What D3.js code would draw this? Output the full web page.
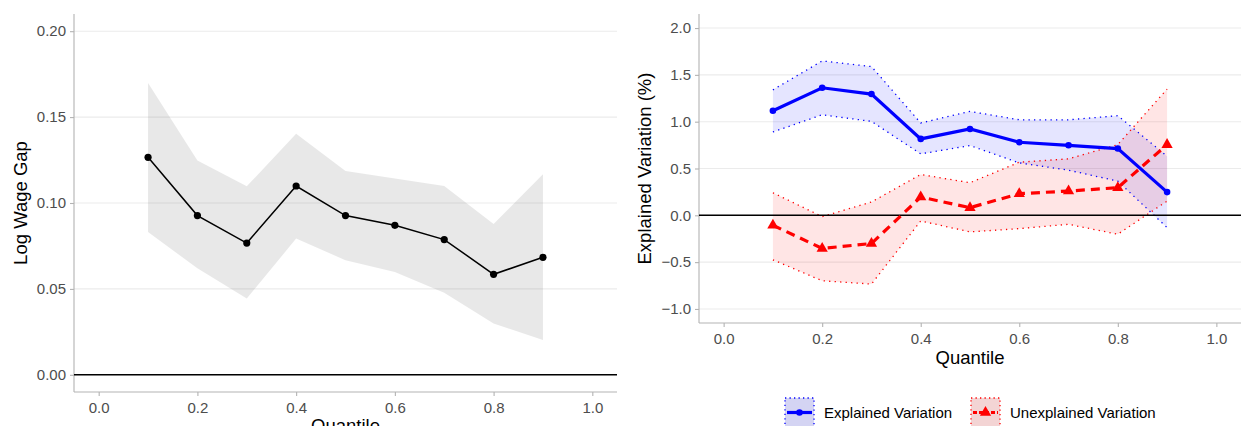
<!DOCTYPE html>
<html><head><meta charset="utf-8">
<script src="https://cdn.jsdelivr.net/npm/d3@7"></script>
<style>
body{margin:0;background:#fff;}
svg{display:block;font-family:"Liberation Sans",Arial,sans-serif;}
</style></head><body>
<svg id="c" width="1245" height="426"></svg>
<script>
// ---- data ----
const quantiles = [0.1,0.2,0.3,0.4,0.5,0.6,0.7,0.8,0.9];
const gap      = [0.1266,0.0927,0.0767,0.1099,0.0927,0.0870,0.0787,0.0585,0.0684];
const gapUpper = [0.1698,0.1248,0.1097,0.1403,0.1186,0.1142,0.1099,0.0878,0.1167];
const gapLower = [0.0831,0.0620,0.0444,0.0793,0.0667,0.0599,0.0477,0.0299,0.0202];

const explained      = [1.117,1.362,1.295,0.816,0.922,0.780,0.748,0.713,0.248];
const explainedUpper = [1.340,1.649,1.589,0.986,1.110,1.020,1.020,1.064,0.631];
const explainedLower = [0.890,1.074,1.003,0.656,0.745,0.560,0.482,0.365,-0.131];

const unexplained      = [-0.106,-0.354,-0.301,0.195,0.082,0.231,0.259,0.295,0.755];
const unexplainedUpper = [0.241,-0.014,0.142,0.436,0.348,0.567,0.603,0.755,1.348];
const unexplainedLower = [-0.475,-0.699,-0.734,-0.060,-0.177,-0.142,-0.096,-0.202,0.152];

const xTicks = [0,0.2,0.4,0.6,0.8,1.0];
const leftYTicks = [0,0.05,0.10,0.15,0.20];
const rightYTicks = [-1.0,-0.5,0,0.5,1.0,1.5,2.0];
const legendLabels = ["Explained Variation","Unexplained Variation"];

const svg = d3.select("#c");
const TICK_COL = "#4D4D4D", AXIS_COL = "#B3B3B3", GRID_COL = "#EBEBEB";

function panel(x0,x1,y0,y1,yDomain,yTicks,yFmt,yTitle,yTitleX,xTitleY){
  const x = d3.scaleLinear().domain([-0.05,1.05]).range([x0,x1]);
  const y = d3.scaleLinear().domain(yDomain).range([y1,y0]);
  const g = svg.append("g");
  // grid
  g.selectAll(".grid").data(yTicks).enter().append("line")
    .attr("x1",x0).attr("x2",x1).attr("y1",d=>y(d)).attr("y2",d=>y(d))
    .attr("stroke",GRID_COL).attr("stroke-width",1.1);
  // axes
  const ax = g.append("g").attr("transform",`translate(0,${y1})`)
    .call(d3.axisBottom(x).tickValues(xTicks).tickFormat(d3.format(".1f")).tickSize(4).tickPadding(6));
  const ay = g.append("g").attr("transform",`translate(${x0},0)`)
    .call(d3.axisLeft(y).tickValues(yTicks).tickFormat(yFmt).tickSize(4).tickPadding(4));
  [ax,ay].forEach(a=>{
    a.select(".domain").attr("stroke",AXIS_COL).attr("stroke-width",1.1);
    a.selectAll(".tick line").attr("stroke",AXIS_COL).attr("stroke-width",1.1);
    a.selectAll(".tick text").attr("fill",TICK_COL).attr("font-size",15).attr("font-family","Liberation Sans, Arial, sans-serif");
  });
  ay.select(".domain").attr("d",`M0,${y0}V${y1}`);
  ax.select(".domain").attr("d",`M${x0},0H${x1}`);
  g.append("text").attr("transform",`translate(${yTitleX},${(y0+y1)/2}) rotate(-90)`)
    .attr("text-anchor","middle").attr("font-size",18.5).attr("fill","#000").text(yTitle);
  g.append("text").attr("x",(x0+x1)/2).attr("y",xTitleY)
    .attr("text-anchor","middle").attr("font-size",18.5).attr("fill","#000").text("Quantile");
  return {x,y,g};
}

// ---- left panel ----
const L = panel(74,617,14,392,[-0.01,0.21],leftYTicks,d3.format(".2f"),"Log Wage Gap",27,432);
const area = (x,y,lo,hi)=>d3.area().x((d,i)=>x(quantiles[i])).y0((d,i)=>y(lo[i])).y1((d,i)=>y(hi[i]));
const line = (x,y,v)=>d3.line().x((d,i)=>x(quantiles[i])).y((d,i)=>y(v[i]));
L.g.append("path").attr("d",area(L.x,L.y,gapLower,gapUpper)(quantiles)).attr("fill","#7F7F7F").attr("fill-opacity",0.18);
L.g.append("line").attr("x1",74).attr("x2",617).attr("y1",L.y(0)).attr("y2",L.y(0)).attr("stroke","#000").attr("stroke-width",1.6);
L.g.append("path").attr("d",line(L.x,L.y,gap)(quantiles)).attr("fill","none").attr("stroke","#000").attr("stroke-width",1.5);
L.g.selectAll(".pt").data(quantiles).enter().append("circle")
  .attr("cx",d=>L.x(d)).attr("cy",(d,i)=>L.y(gap[i])).attr("r",3.6).attr("fill","#000");

// ---- right panel ----
const R = panel(699,1241,14,323,[-1.15,2.15],rightYTicks,d3.format(".1f"),"Explained Variation (%)",651,364);
R.g.append("path").attr("d",area(R.x,R.y,explainedLower,explainedUpper)(quantiles)).attr("fill","#0000FF").attr("fill-opacity",0.1);
R.g.append("path").attr("d",area(R.x,R.y,unexplainedLower,unexplainedUpper)(quantiles)).attr("fill","#FF0000").attr("fill-opacity",0.1);
const dotted = (v,col)=>R.g.append("path").attr("d",line(R.x,R.y,v)(quantiles)).attr("fill","none")
  .attr("stroke",col).attr("stroke-width",1.3).attr("stroke-dasharray","1.3,4.2");
dotted(explainedUpper,"#0000FF"); dotted(explainedLower,"#0000FF");
dotted(unexplainedUpper,"#FF0000"); dotted(unexplainedLower,"#FF0000");
R.g.append("line").attr("x1",699).attr("x2",1241).attr("y1",R.y(0)).attr("y2",R.y(0)).attr("stroke","#000").attr("stroke-width",1.6);
R.g.append("path").attr("d",line(R.x,R.y,explained)(quantiles)).attr("fill","none").attr("stroke","#0000FF").attr("stroke-width",3.2);
R.g.selectAll(".bp").data(quantiles).enter().append("circle")
  .attr("cx",d=>R.x(d)).attr("cy",(d,i)=>R.y(explained[i])).attr("r",3.3).attr("fill","#0000FF");
R.g.append("path").attr("d",line(R.x,R.y,unexplained)(quantiles)).attr("fill","none").attr("stroke","#FF0000").attr("stroke-width",3.2).attr("stroke-dasharray","9,6");
const tri = d3.symbol().type(d3.symbolTriangle).size(55);
R.g.selectAll(".rp").data(quantiles).enter().append("path")
  .attr("d",tri).attr("transform",(d,i)=>`translate(${R.x(d)},${R.y(unexplained[i])})`).attr("fill","#FF0000");

// ---- legend ----
const legCols = [{fill:"#0000FF",stroke:"#0000FF",x:785,dash:null,shape:"circle"},{fill:"#FF0000",stroke:"#FF0000",x:971,dash:"4,2",shape:"tri"}];
const lg = svg.append("g");
legendLabels.forEach((lab,i)=>{
  const c = legCols[i];
  const kx=c.x, ky=398, kw=29, kh=29;
  lg.append("rect").attr("x",kx).attr("y",ky).attr("width",kw).attr("height",kh).attr("fill","#F2F2F2");
  lg.append("rect").attr("x",kx).attr("y",ky).attr("width",kw).attr("height",kh).attr("fill",c.fill).attr("fill-opacity",0.12)
    .attr("stroke",c.stroke).attr("stroke-width",1.3).attr("stroke-dasharray","1.3,3.2");
  const my = ky+14.5;
  lg.append("line").attr("x1",kx+2).attr("x2",kx+kw-2).attr("y1",my).attr("y2",my).attr("stroke",c.stroke).attr("stroke-width",3.2)
    .attr("stroke-dasharray",c.dash);
  if(c.shape==="circle") lg.append("circle").attr("cx",kx+kw/2).attr("cy",my).attr("r",3.3).attr("fill",c.fill);
  else lg.append("path").attr("d",tri).attr("transform",`translate(${kx+kw/2},${my})`).attr("fill",c.fill);
  lg.append("text").attr("x",kx+kw+10).attr("y",my+5).attr("font-size",15).attr("fill","#000").text(lab);
});
</script>
</body></html>
